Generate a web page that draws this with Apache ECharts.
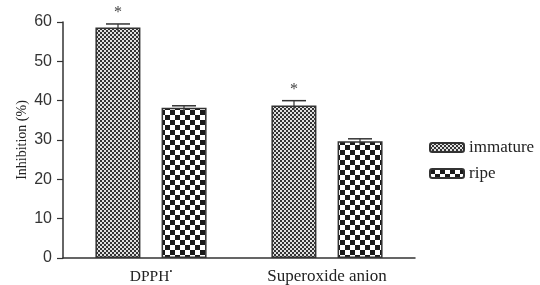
<!DOCTYPE html>
<html lang="en">
<head>
    <meta charset="UTF-8">
    <title>Inhibition</title>
    <script src="https://cdn.jsdelivr.net/npm/echarts@6/dist/echarts.min.js"></script>
    <style>
        html, body { margin: 0; padding: 0; background: #fff; }
    </style>
</head>
<body>
<div id="chart" style="width:540px;height:285px;"></div>
<script>
    var categories = ['{d|DPPH}{s|•}', '{a|Superoxide anion}'];
    var seriesNames = ['immature', 'ripe'];
    var immature = [58.6, 38.8];
    var ripe = [38.2, 29.7];
    var immatureErr = [0.9, 1.2];
    var ripeErr = [0.5, 0.6];
    var immatureStar = ['*', '*'];

    // checker tiles for the bar fills
    function checker(cell, dark, light) {
        var c = document.createElement('canvas');
        c.width = cell * 2;
        c.height = cell * 2;
        var ctx = c.getContext('2d');
        ctx.fillStyle = light;
        ctx.fillRect(0, 0, cell * 2, cell * 2);
        ctx.fillStyle = dark;
        ctx.fillRect(0, 0, cell, cell);
        ctx.fillRect(cell, cell, cell, cell);
        return c;
    }
    var fineFill = { image: checker(2, '#333', '#e0e0e0'), repeat: 'repeat' };
    var coarseFill = { image: checker(5, '#1a1a1a', '#ffffff'), repeat: 'repeat' };

    // error bars drawn on top of each bar (upper half only)
    function errorSeries(idx, values, errs, stars) {
        return {
            type: 'custom',
            z: 10,
            data: values.map(function (v, i) { return [i, v, errs[i]]; }),
            renderItem: function (params, api) {
                var i = api.value(0);
                var base = api.coord([i, api.value(1)]);
                var top = api.coord([i, api.value(1) + api.value(2)]);
                var barW = 45, gap = 21;
                var x = base[0] + (idx === 0 ? -1 : 1) * (barW + gap) / 2;
                var children = [
                    { type: 'line', shape: { x1: x, y1: base[1] + 4, x2: x, y2: top[1] }, style: { stroke: '#333', lineWidth: 1.2 } },
                    { type: 'line', shape: { x1: x - 12, y1: top[1], x2: x + 12, y2: top[1] }, style: { stroke: '#333', lineWidth: 1.5 } }
                ];
                if (stars && stars[params.dataIndex]) {
                    children.push({
                        type: 'text',
                        style: {
                            x: x, y: top[1] - 3, text: stars[params.dataIndex],
                            fill: '#444', font: '16px "Liberation Serif"',
                            textAlign: 'center', textVerticalAlign: 'bottom'
                        }
                    });
                }
                return { type: 'group', children: children };
            },
            silent: true
        };
    }

    var option = {
        animation: false,
        backgroundColor: '#fff',
        grid: { left: 63, right: 125, top: 22, bottom: 26 },
        legend: {
            orient: 'vertical',
            left: 424,
            top: 134,
            itemWidth: 34,
            itemHeight: 9,
            itemGap: 9,
            data: seriesNames,
            textStyle: { fontFamily: 'Liberation Serif', fontSize: 17, color: '#222' }
        },
        xAxis: {
            type: 'category',
            data: categories,
            axisLine: { lineStyle: { color: '#333', width: 1.5 } },
            axisTick: { show: false },
            axisLabel: {
                margin: 10,
                color: '#222',
                fontFamily: 'Liberation Serif',
                fontSize: 15,
                rich: {
                    d: { fontSize: 15.5, fontFamily: 'Liberation Serif', color: '#222' },
                    a: { fontSize: 17, fontFamily: 'Liberation Serif', color: '#222' },
                    s: { fontSize: 8, padding: [0, 0, 9, 0], fontFamily: 'Liberation Serif', color: '#222' }
                }
            }
        },
        yAxis: {
            type: 'value',
            min: 0,
            max: 60,
            interval: 10,
            name: 'Inhibition (%)',
            nameLocation: 'middle',
            nameGap: 34,
            nameMoveOverlap: false,
            nameTextStyle: { fontFamily: 'Liberation Serif', fontSize: 14, color: '#222' },
            axisLine: { show: true, lineStyle: { color: '#333', width: 1.5 } },
            axisTick: { show: true, length: 6, lineStyle: { color: '#333', width: 1.2 } },
            axisLabel: { margin: 11, color: '#333', fontFamily: 'Liberation Sans', fontSize: 16 },
            splitLine: { show: false }
        },
        series: [
            {
                name: seriesNames[0],
                type: 'bar',
                data: immature,
                barWidth: 45,
                barGap: '47%',
                itemStyle: { color: fineFill, borderColor: '#333', borderWidth: 1.5 }
            },
            {
                name: seriesNames[1],
                type: 'bar',
                data: ripe,
                barWidth: 45,
                itemStyle: { color: coarseFill, borderColor: '#333', borderWidth: 1.5 }
            },
            errorSeries(0, immature, immatureErr, immatureStar),
            errorSeries(1, ripe, ripeErr, null)
        ]
    };

    var myChart = echarts.init(document.getElementById('chart'));
    myChart.setOption(option);
</script>
</body>
</html>
